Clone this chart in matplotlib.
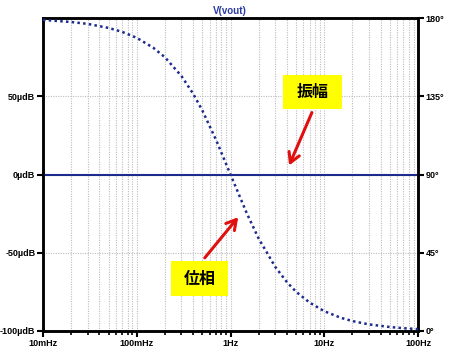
import matplotlib.pyplot as plt
from matplotlib.patches import Rectangle, FancyArrowPatch
from matplotlib.ticker import FixedLocator, LogLocator, NullFormatter

# phase readings (Hz, degrees)
freq = [0.01, 0.02, 0.03, 0.05, 0.07, 0.1, 0.15, 0.2, 0.3, 0.4, 0.5, 0.7,
        1.0, 1.5, 2.0, 3.0, 4.0, 5.0, 7.0, 10.0, 15.0, 20.0, 30.0, 50.0, 70.0, 100.0]
phase = [178.9, 177.7, 176.6, 174.3, 172.0, 168.6, 162.9, 157.4, 146.6, 136.4, 126.9, 110.0,
         90.0, 67.4, 53.1, 36.9, 28.1, 22.6, 16.3, 11.4, 7.6, 5.7, 3.8, 2.3, 1.6, 1.1]
# magnitude trace (flat, in µdB)
mag_freq = [0.01, 100.0]
mag = [0.0, 0.0]

x_ticks = [0.01, 0.1, 1, 10, 100]
x_labels = ["10mHz", "100mHz", "1Hz", "10Hz", "100Hz"]
left_ticks = [-100, -50, 0, 50]
left_labels = ["-100µdB", "-50µdB", "0µdB", "50µdB"]
right_ticks = [0, 45, 90, 135, 180]
right_labels = ["0°", "45°", "90°", "135°", "180°"]

NAVY = "#1c2a8e"
cjk = ["Noto Sans CJK JP", "DejaVu Sans"]

fig = plt.figure(figsize=(4.51, 3.54), dpi=100)
ax = fig.add_axes([43 / 451, 23 / 354, 375 / 451, 313 / 354])
ax2 = ax.twinx()

ax.set_xscale("log")
ax.set_xlim(0.01, 100)
ax.set_ylim(-100, 100)
ax2.set_ylim(0, 180)

# grid
ax.xaxis.set_minor_locator(LogLocator(base=10, subs=range(2, 10)))
ax.xaxis.set_minor_formatter(NullFormatter())
grid_kw = dict(color="#bdbdbd", linestyle=(0, (1, 1.2)), linewidth=0.8)
ax.grid(True, which="both", axis="x", **grid_kw)
ax.grid(True, which="major", axis="y", **grid_kw)

ax.plot(mag_freq, mag, color=NAVY, linewidth=1.5, zorder=3)
ax2.plot(freq, phase, color=NAVY, linestyle=(0, (1, 1.3)), linewidth=1.8, zorder=3)

ax.set_xticks(x_ticks)
ax.set_xticklabels(x_labels)
ax.yaxis.set_major_locator(FixedLocator(left_ticks))
ax.set_yticklabels(left_labels)
ax2.yaxis.set_major_locator(FixedLocator(right_ticks))
ax2.set_yticklabels(right_labels)

for a in (ax, ax2):
    for s in a.spines.values():
        s.set_linewidth(1.8)
    for lab in a.get_xticklabels() + a.get_yticklabels():
        lab.set_fontfamily("Liberation Sans")
        lab.set_fontweight("bold")
        lab.set_fontsize(6.5)
ax.tick_params(axis="both", which="major", direction="out", length=4, width=1.5, pad=1.5)
ax.tick_params(axis="x", which="minor", direction="out", length=3, width=1.2)
ax2.tick_params(axis="y", which="major", direction="out", length=4, width=1.5, pad=1.5)

fig.text(230 / 451, 1 - 11 / 354, "V(vout)", ha="center", va="center", color="#2b3aa0",
         fontsize=7, fontweight="bold", family="Liberation Sans")

# callouts (pixel positions in the figure, y from top)
def callout(x0, y0, w, h, label, tail, tip):
    fig.patches.append(Rectangle((x0 / 100, (354 - y0 - h) / 100), w / 100, h / 100,
                                 transform=fig.dpi_scale_trans, facecolor="#ffff00",
                                 edgecolor="none", zorder=5))
    fig.text((x0 + w / 2) / 451, 1 - (y0 + h / 2) / 354, label, ha="center", va="center",
             fontsize=11.5, fontweight="bold", family=cjk, zorder=6)
    fig.patches.append(FancyArrowPatch(
        (tail[0] / 100, (354 - tail[1]) / 100), (tip[0] / 100, (354 - tip[1]) / 100),
        transform=fig.dpi_scale_trans, arrowstyle="->,head_length=7,head_width=4",
        color="#e01010", linewidth=2.2, mutation_scale=1, zorder=6))

callout(283, 75, 59, 34, "振幅", (313, 110), (288, 168))
callout(171, 261, 57, 35, "位相", (203, 260), (240, 215))

fig.savefig("out.png", dpi=100)
